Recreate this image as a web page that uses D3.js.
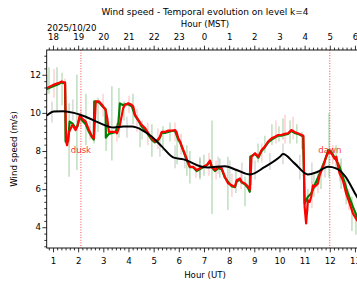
<!DOCTYPE html>
<html><head><meta charset="utf-8">
<script src="https://cdn.jsdelivr.net/npm/d3@7"></script>
<style>html,body{margin:0;padding:0;background:#fff;overflow:hidden}svg{display:block;font-family:"DejaVu Sans",sans-serif}</style>
</head><body><svg id="c" width="357" height="282"></svg>
<script>
// ---- data ----
const hoursUT = [1,2,3,4,5,6,7,8,9,10,11,12,13];
const yTicks = [4,6,8,10,12];
const duskT = 2.11, dawnT = 12.0;

const redT = [0.75,1.01,1.21,1.35,1.44,1.48,1.52,1.56,1.64,1.77,1.90,1.97,2.07,2.16,2.30,2.43,2.56,2.63,2.70,2.83,2.96,3.09,3.16,3.22,3.36,3.49,3.54,3.66,3.79,3.86,3.99,4.13,4.19,4.26,4.39,4.52,4.66,4.79,4.92,5.05,5.17,5.25,5.32,5.45,5.58,5.72,5.85,5.91,5.98,6.05,6.18,6.31,6.38,6.44,6.57,6.71,6.84,6.97,7.11,7.24,7.31,7.44,7.57,7.70,7.83,7.96,8.10,8.23,8.30,8.43,8.50,8.63,8.76,8.83,8.89,9.03,9.16,9.29,9.42,9.55,9.69,9.82,9.95,10.07,10.21,10.34,10.40,10.47,10.60,10.73,10.89,10.95,11.00,11.06,11.13,11.20,11.26,11.33,11.40,11.53,11.60,11.73,11.86,11.95,12.06,12.19,12.26,12.32,12.39,12.52,12.65,12.79,12.92,13.08,13.32];
const redV = [11.3,11.47,11.56,11.65,11.6,11.6,8.5,8.3,9.0,9.37,9.1,9.3,9.9,9.7,9.54,9.1,8.75,8.67,10.6,10.6,10.4,10.16,9.7,9.0,9.0,9.0,8.93,9.37,10.25,10.42,10.5,10.42,10.33,9.9,9.63,9.37,9.2,8.93,8.67,8.5,8.6,8.75,9.0,9.0,9.07,9.07,9.1,9.0,8.67,8.5,8.05,7.6,7.35,7.17,7.17,7.0,7.1,7.17,7.26,7.5,7.17,7.0,7.17,7.1,6.65,6.3,6.2,6.12,6.47,6.56,6.38,6.3,6.12,5.98,7.7,7.88,7.7,8.05,8.23,8.5,8.67,8.75,8.84,8.84,8.9,8.93,9.0,9.1,9.0,8.93,8.84,8.8,5.07,4.2,5.42,5.33,5.6,6.2,6.12,6.3,6.74,7.17,7.7,7.96,7.88,7.6,7.7,7.26,6.82,6.47,5.77,5.25,4.72,4.37,4.0];

const greenT = [0.75,1.01,1.21,1.35,1.44,1.48,1.50,1.60,1.66,1.77,1.90,1.97,2.07,2.16,2.30,2.43,2.56,2.62,2.64,2.83,2.96,3.09,3.10,3.22,3.36,3.49,3.60,3.66,3.79,3.86,3.99,4.13,4.26,4.39,4.52,4.66,4.79,4.92,5.05,5.17,5.25,5.32,5.45,5.58,5.72,5.85,5.98,6.05,6.18,6.31,6.44,6.57,6.71,6.84,6.97,7.11,7.24,7.31,7.44,7.57,7.70,7.83,7.96,8.10,8.23,8.30,8.43,8.50,8.63,8.76,8.82,8.84,9.03,9.16,9.29,9.42,9.55,9.69,9.82,9.95,10.07,10.21,10.34,10.47,10.60,10.73,10.89,10.94,11.00,11.13,11.26,11.40,11.60,11.80,11.94,12.06,12.26,12.39,12.52,12.72,12.92,13.08,13.32];
const greenV = [11.25,11.4,11.5,11.6,11.55,11.55,8.5,8.5,9.54,9.45,9.2,9.3,9.8,9.6,9.4,9.0,8.7,8.6,10.6,10.55,10.35,10.2,8.7,8.9,8.95,9.0,9.5,10.5,10.4,10.45,10.45,10.35,9.85,9.6,9.3,9.1,8.85,8.6,8.45,8.55,8.7,8.95,8.95,9.0,9.05,9.05,8.6,8.45,8.0,7.55,7.15,7.15,6.95,7.05,7.15,7.25,7.44,7.15,6.95,7.1,7.05,6.6,6.38,6.15,6.1,6.4,6.5,6.35,6.25,6.04,5.86,7.7,7.85,7.65,8.0,8.2,8.45,8.6,8.7,8.8,8.8,8.85,8.9,9.05,8.95,8.9,8.8,8.75,5.25,5.6,5.77,6.2,6.82,7.5,8.05,7.96,7.5,7.17,6.65,5.77,5.07,4.54,4.2];

const meanT = [0.75,1.04,1.40,1.83,2.30,2.80,3.42,3.80,4.14,4.54,4.93,5.33,5.80,6.19,6.92,7.16,7.83,8.30,8.83,9.40,10.02,10.14,10.60,11.13,11.50,11.93,12.25,12.60,13.08,13.32];
const meanV = [9.86,10.07,10.08,10.0,9.8,9.5,9.23,9.28,9.28,9.1,8.75,8.23,7.65,7.56,7.17,7.14,7.2,7.0,6.77,7.15,7.7,7.84,7.35,6.77,6.9,7.17,7.09,6.7,5.6,5.1];

// vertical spread bars: [time, low, high]
const greenBarT  = [0.84,1.16,1.36,1.64,1.95,2.31,2.63,2.79,3.11,3.34,3.62,3.82,4.18,4.46,4.93,5.37,5.65,5.93,6.32,6.44,6.84,7.00,7.32,7.63,7.95,8.27,8.63,8.87,9.15,9.42,9.70,9.98,10.14,10.42,10.69,10.89,11.13,11.37,11.65,11.97,12.25,12.45,12.65,12.88,13.04];
const greenBarLo = [11.0,10.1,10.4,6.65,7.0,8.3,8.4,9.0,8.0,7.5,8.7,9.6,9.4,8.2,7.7,8.0,8.5,7.3,6.7,6.3,6.5,6.7,4.7,6.6,4.9,5.8,5.1,6.2,7.4,7.9,8.3,8.5,8.6,8.4,8.4,8.1,4.8,5.6,6.0,6.6,7.0,6.0,5.2,3.8,3.6];
const greenBarHi = [12.4,12.4,12.1,10.5,12.0,11.0,10.6,10.8,9.9,11.4,11.3,10.6,11.0,9.6,9.4,9.3,9.5,9.0,8.3,8.0,7.6,7.8,9.6,7.6,7.7,7.0,6.65,7.5,8.4,8.8,9.4,9.3,9.7,9.6,9.4,9.0,6.0,6.8,7.0,10.0,8.3,7.6,6.5,5.6,4.8];

const pinkBarT  = [0.76,1.04,1.48,2.11,2.47,2.99,3.54,4.02,4.34,4.77,5.17,5.85,6.09,6.68,7.20,7.48,8.11,8.47,9.30,9.86,10.22,10.54,11.29,11.53,12.12,12.76];
const pinkBarLo = [11.0,10.8,9.5,9.2,8.6,9.8,8.5,10.0,9.0,8.3,8.1,8.5,7.8,6.6,6.7,6.5,5.6,6.0,7.4,8.4,8.4,8.6,5.0,5.8,7.3,4.9];
const pinkBarHi = [12.0,12.3,11.8,10.2,9.6,11.0,9.5,10.9,10.2,9.5,9.2,9.5,8.9,7.4,7.9,7.5,6.8,7.0,8.4,9.6,9.9,9.8,6.4,6.9,8.3,6.0];

const grayBarT  = [0.96,1.79,3.11,3.94,4.54,5.25,5.85,6.24,6.84,7.56,8.03,8.51,9.03,9.62,10.14,10.81,11.29,11.81,12.40];
const grayBarLo = [9.5,9.6,8.8,8.7,8.6,7.7,7.1,7.1,6.6,6.8,6.3,6.4,6.5,7.0,7.3,6.5,6.3,6.6,6.4];
const grayBarHi = [10.6,10.7,9.8,9.8,9.6,8.8,8.3,8.0,7.7,7.7,7.5,7.4,7.5,7.9,8.4,7.8,7.4,7.6,7.4];

// ---- drawing ----
const svg = d3.select("#c");
const L = 46.7, R = 363, T = 50, B = 248;
const x = d3.scaleLinear().domain([0.75, 13.32]).range([L, R]);
const y = d3.scaleLinear().domain([2.91, 13.3]).range([B, T]);
const FS = 8.6;

const g = svg.append("g");
svg.append("defs").append("clipPath").attr("id","cp").append("rect")
  .attr("x", L).attr("y", T).attr("width", R-L).attr("height", B-T);
const pg = g.append("g").attr("clip-path","url(#cp)");

function bars(ts, lo, hi, color, op){
  pg.selectAll(null).data(ts.map((t,i)=>({t, lo:lo[i], hi:hi[i]}))).enter().append("line")
    .attr("x1", d=>x(d.t)).attr("x2", d=>x(d.t))
    .attr("y1", d=>y(d.lo)).attr("y2", d=>y(d.hi))
    .attr("stroke", color).attr("stroke-width", 1.4).attr("stroke-opacity", op);
}
bars(grayBarT, grayBarLo, grayBarHi, "#888888", 0.35);
bars(pinkBarT, pinkBarLo, pinkBarHi, "#ff0000", 0.2);
bars(greenBarT, greenBarLo, greenBarHi, "#008000", 0.28);

// dusk/dawn lines
[duskT, dawnT].forEach(t=>{
  pg.append("line").attr("x1", x(t)).attr("x2", x(t)).attr("y1", T).attr("y2", B)
    .attr("stroke","#ff0000").attr("stroke-width",0.9).attr("stroke-dasharray","1,1.6").attr("stroke-opacity",0.8);
});

const line = d3.line().x(d=>x(d[0])).y(d=>y(d[1]));
pg.append("path").datum(greenT.map((t,i)=>[t, greenV[i]])).attr("d", line)
  .attr("fill","none").attr("stroke","#008000").attr("stroke-width",2.2).attr("stroke-linejoin","round");
pg.append("path").datum(redT.map((t,i)=>[t, redV[i]])).attr("d", line)
  .attr("fill","none").attr("stroke","#ff0000").attr("stroke-width",2.2).attr("stroke-linejoin","round");
pg.append("path").datum(meanT.map((t,i)=>[t, meanV[i]])).attr("d", d3.line().x(d=>x(d[0])).y(d=>y(d[1])).curve(d3.curveMonotoneX))
  .attr("fill","none").attr("stroke","#000").attr("stroke-width",2).attr("stroke-linejoin","round");

// dusk/dawn labels
[[duskT,"dusk"],[dawnT,"dawn"]].forEach(([t,s])=>{
  g.append("text").attr("x", x(t)).attr("y", 152.5).attr("text-anchor","middle")
    .attr("font-size", FS).attr("fill","#ff0000").attr("fill-opacity",0.85).text(s);
});

// frame
g.append("rect").attr("x",L).attr("y",T).attr("width",R-L).attr("height",B-T)
  .attr("fill","none").attr("stroke","#000").attr("stroke-width",0.9);

// minor tick values
const minorXv = d3.range(0, 14*6).map(i=>i/6).filter(v=>v>0.75-1e-9 && v<=13.32 && Math.abs(v-Math.round(v))>1e-6);
const minorY = d3.range(9, 40).map(i=>i/3).filter(v=>v>=2.91 && v<=13.3 && Math.abs(v/2-Math.round(v/2))>1e-6);

function styleAxis(sel){
  sel.select(".domain").remove();
  sel.selectAll("line").attr("stroke","#000").attr("stroke-width",0.8);
  sel.selectAll("text").attr("font-size",FS).attr("fill","#000").attr("font-family","DejaVu Sans");
}
// bottom
g.append("g").attr("transform",`translate(0,${B})`)
  .call(d3.axisBottom(x).tickValues(minorXv).tickSize(2.4).tickFormat("")).call(styleAxis);
g.append("g").attr("transform",`translate(0,${B})`)
  .call(d3.axisBottom(x).tickValues(hoursUT).tickSize(4.3).tickPadding(5.5).tickFormat(d3.format("d"))).call(styleAxis);
// top
g.append("g").attr("transform",`translate(0,${T})`)
  .call(d3.axisTop(x).tickValues(minorXv).tickSize(2.4).tickFormat("")).call(styleAxis);
g.append("g").attr("transform",`translate(0,${T})`)
  .call(d3.axisTop(x).tickValues(hoursUT).tickSize(4.3).tickPadding(5.5).tickFormat(h=>String((h-7+24)%24))).call(styleAxis);
// left
g.append("g").attr("transform",`translate(${L},0)`)
  .call(d3.axisLeft(y).tickValues(minorY).tickSize(2.4).tickFormat("")).call(styleAxis);
g.append("g").attr("transform",`translate(${L},0)`)
  .call(d3.axisLeft(y).tickValues(yTicks).tickSize(4.3).tickPadding(1.5).tickFormat(d3.format("d"))).call(styleAxis);

// texts
svg.append("text").attr("x",205).attr("y",14.5).attr("text-anchor","middle").attr("font-size",9).text("Wind speed - Temporal evolution on level k=4");
svg.append("text").attr("x",205).attr("y",26.5).attr("text-anchor","middle").attr("font-size",FS).text("Hour (MST)");
svg.append("text").attr("x",47).attr("y",31).attr("font-size",FS).text("2025/10/20");
svg.append("text").attr("x",205).attr("y",278).attr("text-anchor","middle").attr("font-size",FS).text("Hour (UT)");
svg.append("text").attr("transform","translate(17,149) rotate(-90)").attr("text-anchor","middle").attr("font-size",FS).text("Wind speed (m/s)");
</script>
</body></html>
